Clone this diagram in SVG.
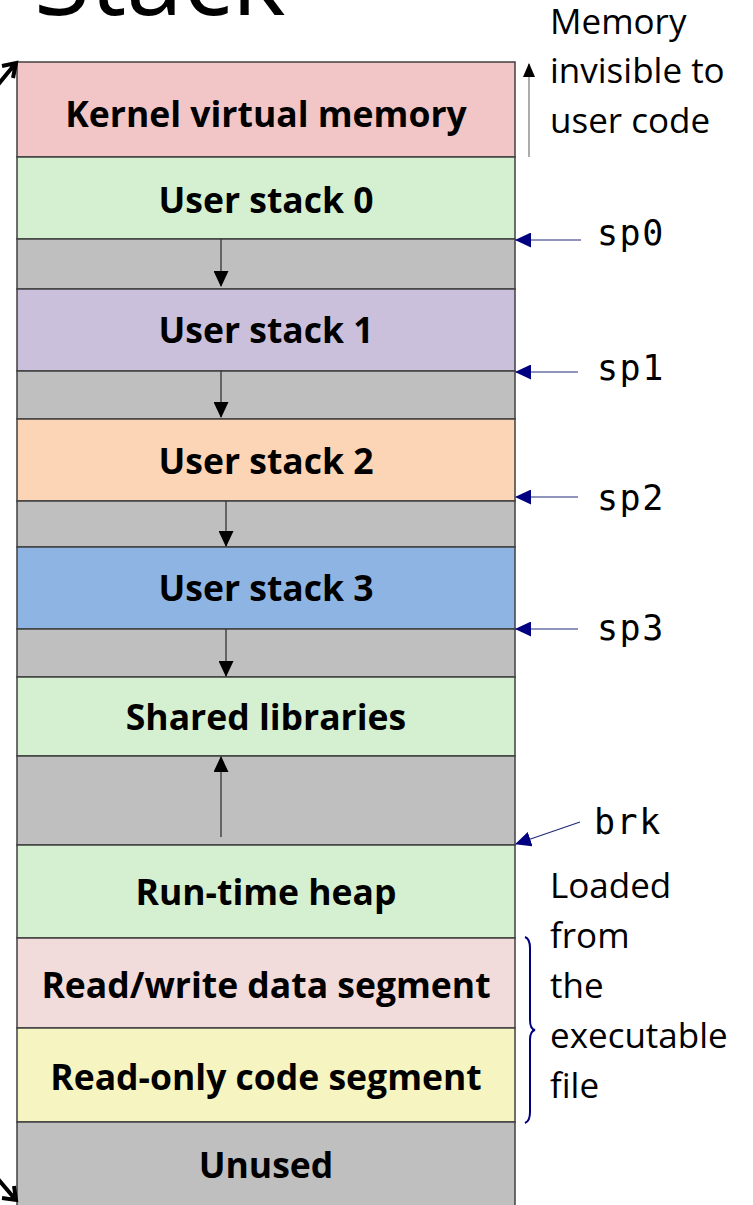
<svg xmlns="http://www.w3.org/2000/svg" width="753" height="1205" viewBox="0 0 753 1205">
  <style>
    .seg { stroke: #404040; stroke-width: 1.5; }
    .lbl { font-family: "Open Sans", "Liberation Sans", sans-serif; font-weight: bold; font-size: 35.5px; fill: #000; text-anchor: middle; }
    .note { font-family: "Open Sans", "Liberation Sans", sans-serif; font-size: 35px; fill: #000; }
    .mono { font-family: "DejaVu Sans Mono", "Liberation Mono", monospace; font-size: 35px; fill: #000; letter-spacing: 1.5px; }
    .grow { stroke: #333; stroke-width: 1.3; fill: none; }
    .ptr { stroke: #1f2a7a; stroke-width: 1.2; fill: none; }
  </style>
  <defs>
    <marker id="blackHead" viewBox="0 0 16 15" refX="15" refY="7.5" markerWidth="16" markerHeight="15" markerUnits="userSpaceOnUse" orient="auto">
      <path d="M0,0 L16,7.5 L0,15 Z" fill="#000"/>
    </marker>
    <marker id="smallHead" viewBox="0 0 14 12" refX="13" refY="6" markerWidth="14" markerHeight="12" markerUnits="userSpaceOnUse" orient="auto">
      <path d="M0,0 L14,6 L0,12 Z" fill="#000"/>
    </marker>
    <marker id="navyHead" viewBox="0 0 16 15" refX="15" refY="7.5" markerWidth="16" markerHeight="15" markerUnits="userSpaceOnUse" orient="auto">
      <path d="M0,0 L16,7.5 L0,15 Z" fill="#000080"/>
    </marker>
  </defs>

  <!-- heading, clipped by the top edge -->
  <text x="34" y="15" style="font-family: 'Open Sans', 'Liberation Sans', sans-serif; font-size: 102px; fill: #000;">Stack</text>

  <!-- address-space segments, top (high addresses) to bottom -->
  <g id="kernel">
    <rect class="seg" x="17" y="62" width="498" height="95" fill="#f2c6c6"/>
    <text class="lbl" x="266" y="127">Kernel virtual memory</text>
  </g>
  <g id="stack0">
    <rect class="seg" x="17" y="157" width="498" height="82" fill="#d5f0d1"/>
    <text class="lbl" x="266" y="213">User stack 0</text>
  </g>
  <g id="gap0"><rect class="seg" x="17" y="239" width="498" height="50" fill="#bfbfbf"/></g>
  <g id="stack1">
    <rect class="seg" x="17" y="289" width="498" height="82" fill="#cbc0dc"/>
    <text class="lbl" x="266" y="343">User stack 1</text>
  </g>
  <g id="gap1"><rect class="seg" x="17" y="371" width="498" height="48" fill="#bfbfbf"/></g>
  <g id="stack2">
    <rect class="seg" x="17" y="419" width="498" height="82" fill="#fbd5b5"/>
    <text class="lbl" x="266" y="474">User stack 2</text>
  </g>
  <g id="gap2"><rect class="seg" x="17" y="501" width="498" height="46" fill="#bfbfbf"/></g>
  <g id="stack3">
    <rect class="seg" x="17" y="547" width="498" height="82" fill="#8eb4e3"/>
    <text class="lbl" x="266" y="601">User stack 3</text>
  </g>
  <g id="gap3"><rect class="seg" x="17" y="629" width="498" height="48" fill="#bfbfbf"/></g>
  <g id="shlib">
    <rect class="seg" x="17" y="677" width="498" height="79" fill="#d5f0d1"/>
    <text class="lbl" x="266" y="730">Shared libraries</text>
  </g>
  <g id="gapHeap"><rect class="seg" x="17" y="756" width="498" height="89" fill="#bfbfbf"/></g>
  <g id="heap">
    <rect class="seg" x="17" y="845" width="498" height="93" fill="#d5f0d1"/>
    <text class="lbl" x="266" y="905">Run-time heap</text>
  </g>
  <g id="data">
    <rect class="seg" x="17" y="938" width="498" height="90" fill="#f2dcdb"/>
    <text class="lbl" x="266" y="998">Read/write data segment</text>
  </g>
  <g id="code">
    <rect class="seg" x="17" y="1028" width="498" height="94" fill="#f6f4c0"/>
    <text class="lbl" x="266" y="1090">Read-only code segment</text>
  </g>
  <g id="unused">
    <rect class="seg" x="17" y="1122" width="498" height="100" fill="#bfbfbf"/>
    <text class="lbl" x="266" y="1178">Unused</text>
  </g>

  <!-- connectors: growth directions, pointers, brace -->
  <g id="connectors">
    <line class="grow" x1="221" y1="239" x2="221" y2="286" marker-end="url(#blackHead)"/>
    <line class="grow" x1="221" y1="371" x2="221" y2="417" marker-end="url(#blackHead)"/>
    <line class="grow" x1="226" y1="501" x2="226" y2="546" marker-end="url(#blackHead)"/>
    <line class="grow" x1="226" y1="629" x2="226" y2="676" marker-end="url(#blackHead)"/>
    <line class="grow" x1="221" y1="837" x2="221" y2="757" marker-end="url(#blackHead)"/>

    <line stroke="#808080" stroke-width="1.3" x1="529" y1="157" x2="529" y2="64" marker-end="url(#smallHead)"/>

    <line class="ptr" x1="581" y1="240" x2="516" y2="240" marker-end="url(#navyHead)"/>
    <line class="ptr" x1="578" y1="372" x2="516" y2="372" marker-end="url(#navyHead)"/>
    <line class="ptr" x1="578" y1="497" x2="516" y2="497" marker-end="url(#navyHead)"/>
    <line class="ptr" x1="578" y1="629" x2="516" y2="629" marker-end="url(#navyHead)"/>
    <line class="ptr" x1="580" y1="822" x2="516" y2="844" marker-end="url(#navyHead)"/>

    <path d="M525,937 Q530,939 530,948 L530,1020 Q530,1029 535,1030 Q530,1031 530,1040 L530,1112 Q530,1121 525,1123" fill="none" stroke="#000080" stroke-width="2"/>

    <!-- edges of the left-hand span arrow -->
    <path d="M-8,92 L15,64 M2,66 L16,63 L13,78" fill="none" stroke="#000" stroke-width="4"/>
    <path d="M-8,1172 L15,1199 M2,1198 L16,1200 L14,1186" fill="none" stroke="#000" stroke-width="4"/>
  </g>

  <!-- right-hand notes -->
  <g id="notes">
    <text class="note" x="550" y="34">Memory</text>
    <text class="note" x="550" y="83">invisible to</text>
    <text class="note" x="550" y="133">user code</text>
    <text class="mono" x="597" y="245">sp0</text>
    <text class="mono" x="597" y="380">sp1</text>
    <text class="mono" x="597" y="510">sp2</text>
    <text class="mono" x="597" y="640">sp3</text>
    <text class="mono" x="594" y="834">brk</text>
    <text class="note" x="550" y="898">Loaded</text>
    <text class="note" x="550" y="948">from</text>
    <text class="note" x="550" y="998">the</text>
    <text class="note" x="550" y="1048">executable</text>
    <text class="note" x="550" y="1098">file</text>
  </g>
</svg>
